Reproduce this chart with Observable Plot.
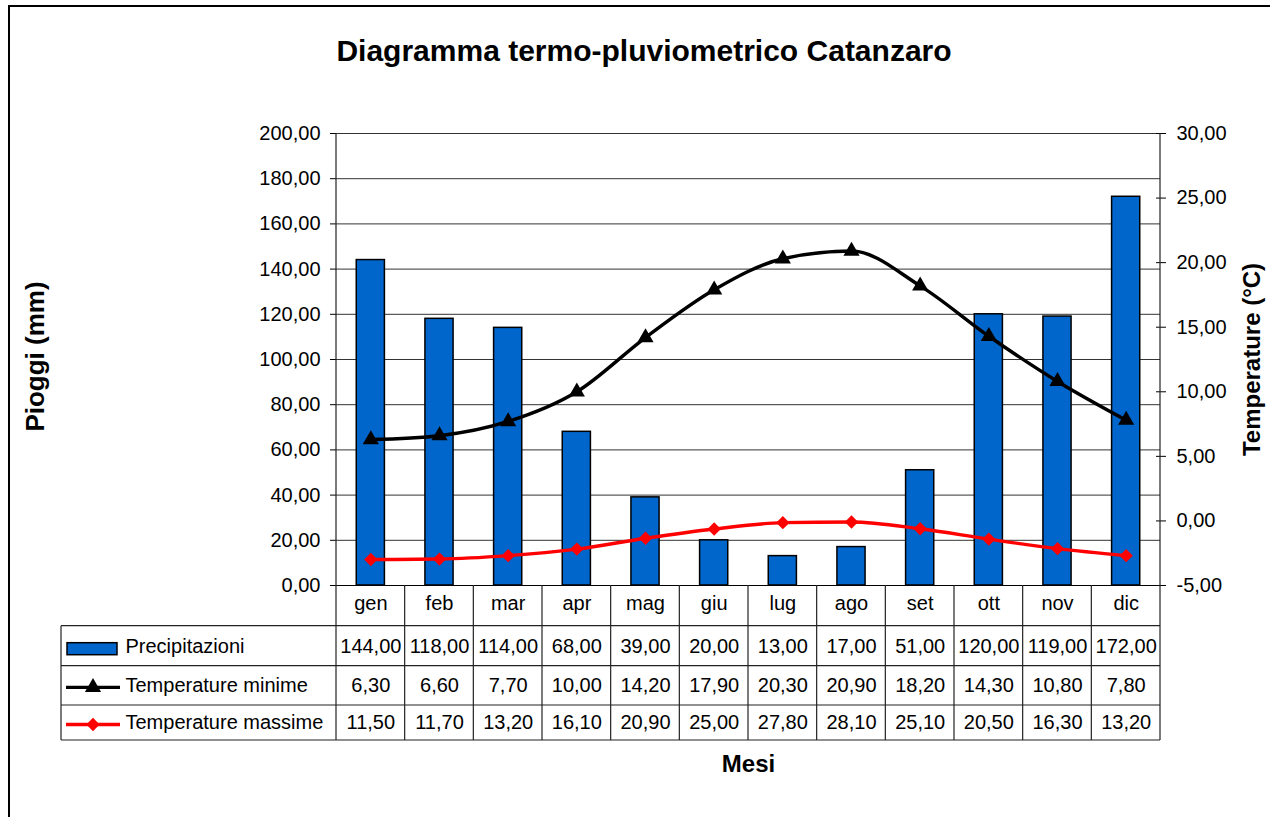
<!DOCTYPE html>
<html>
<head>
<meta charset="utf-8">
<script src="https://cdn.jsdelivr.net/npm/d3@7"></script>
<script src="https://cdn.jsdelivr.net/npm/@observablehq/plot@0.6"></script>
<style>
  html, body { margin: 0; padding: 0; background: #fff; overflow: hidden; }
  #wrap { position: relative; width: 1270px; height: 817px; font-family: "Liberation Sans", Arial, sans-serif; overflow: hidden; }
  #frame { position: absolute; left: 8px; top: 5px; width: 1400px; height: 1000px; border-left: 2px solid #000; border-top: 2px solid #000; pointer-events: none; }
  #title { width: 1288px; height: 64px; padding-top: 36px; text-align: center; font-size: 30px; line-height: 30px; font-weight: bold; color: #000; }
  #chart svg { display: block; }
</style>
</head>
<body>
<div id="wrap">
  <div id="title">Diagramma termo-pluviometrico Catanzaro</div>
  <div id="chart"></div>
  <div id="frame"></div>
</div>
<script>
// ---- data ----
const months = ["gen", "feb", "mar", "apr", "mag", "giu", "lug", "ago", "set", "ott", "nov", "dic"];
const precipitazioni = [144, 118, 114, 68, 39, 20, 13, 17, 51, 120, 119, 172];
const tempMinime = [6.3, 6.6, 7.7, 10.0, 14.2, 17.9, 20.3, 20.9, 18.2, 14.3, 10.8, 7.8];
const tempMassime = [11.5, 11.7, 13.2, 16.1, 20.9, 25.0, 27.8, 28.1, 25.1, 20.5, 16.3, 13.2];
const leftTicks = [0, 20, 40, 60, 80, 100, 120, 140, 160, 180, 200];
const rightTicks = [-5, 0, 5, 10, 15, 20, 25, 30];
const seriesNames = ["Precipitazioni", "Temperature minime", "Temperature massime"];

// ---- helpers ----
const fmt = v => (Math.round(v * 100) / 100 + 0).toFixed(2).replace(".", ",");
const mm0 = leftTicks[0], mm1 = leftTicks[leftTicks.length - 1];
const t0 = rightTicks[0], t1 = rightTicks[rightTicks.length - 1];
const toMM = t => mm0 + (t - t0) * (mm1 - mm0) / (t1 - t0);
const fromMM = v => t0 + (v - mm0) * (t1 - t0) / (mm1 - mm0);

const data = months.map((m, i) => ({
  month: m, precip: precipitazioni[i], tmin: tempMinime[i], tmax: tempMassime[i]
}));

const FONT = "'Liberation Sans', Arial, sans-serif";
const TRI_R = 6, DIA_R = 6, LINE_W = 3.4;

const plot = Plot.plot({
  width: 1270,
  height: 717,
  marginTop: 33,
  marginBottom: 232,
  marginLeft: 336,
  marginRight: 110,
  x: { domain: months, paddingInner: 0.59, paddingOuter: 0.295, round: false, axis: null },
  y: { domain: [mm0, mm1], axis: null },
  style: { fontFamily: FONT, fontSize: "20px", color: "#000", background: "transparent", overflow: "visible" },
  marks: [
    Plot.ruleY(leftTicks.slice(1), { stroke: "#333", strokeWidth: 1 }),
    Plot.barY(data, { x: "month", y: "precip", fill: "#0066CC", stroke: "#000", strokeWidth: 1.5 }),
    Plot.ruleY([mm0], { stroke: "#000", strokeWidth: 1 }),
    Plot.line(data, { x: "month", y: d => toMM(d.tmin), stroke: "#000", strokeWidth: LINE_W, curve: "monotone-x" }),
    Plot.dot(data, { x: "month", y: d => toMM(d.tmin), symbol: "triangle", r: TRI_R, fill: "#000", stroke: "none" }),
    Plot.line(data, { x: "month", y: "tmax", stroke: "#FF0000", strokeWidth: LINE_W, curve: "monotone-x" }),
    Plot.dot(data, { x: "month", y: "tmax", symbol: "diamond2", r: DIA_R, fill: "#FF0000", stroke: "none" }),
    Plot.axisY(leftTicks, { anchor: "left", tickSize: 6, tickPadding: 10, tickFormat: fmt, fontSize: 20, stroke: "#000" }),
    Plot.axisY(rightTicks.map(toMM), { anchor: "right", tickSize: 10, dx: -5, tickPadding: 11, tickFormat: d => fmt(fromMM(d)), fontSize: 20, stroke: "#000" }),
    // category row and data table values
    Plot.text(data, { x: "month", text: "month", frameAnchor: "bottom", dy: 24, fontSize: 20 }),
    Plot.text(data, { x: "month", text: d => fmt(d.precip), frameAnchor: "bottom", dy: 67, fontSize: 20 }),
    Plot.text(data, { x: "month", text: d => fmt(d.tmin), frameAnchor: "bottom", dy: 106, fontSize: 20 }),
    Plot.text(data, { x: "month", text: d => fmt(d.tmax), frameAnchor: "bottom", dy: 143, fontSize: 20 }),
    // legend labels in the table
    Plot.text([seriesNames[0]], { frameAnchor: "bottom-left", dx: -211, dy: 67, textAnchor: "start", fontSize: 20 }),
    Plot.text([seriesNames[1]], { frameAnchor: "bottom-left", dx: -211, dy: 106, textAnchor: "start", fontSize: 20 }),
    Plot.text([seriesNames[2]], { frameAnchor: "bottom-left", dx: -211, dy: 143, textAnchor: "start", fontSize: 20 }),
    // axis titles
    Plot.text(["Pioggi (mm)"], { frameAnchor: "left", dx: -301, dy: -3, rotate: -90, textAnchor: "middle", fontWeight: "bold", fontSize: 26 }),
    Plot.text(["Temperature (°C)"], { frameAnchor: "right", dx: 92, rotate: -90, textAnchor: "middle", fontWeight: "bold", fontSize: 24 }),
    Plot.text(["Mesi"], { frameAnchor: "bottom", dy: 186, textAnchor: "middle", fontWeight: "bold", fontSize: 24 })
  ]
});

document.getElementById("chart").appendChild(plot);

// ---- data table grid and legend keys, positioned through Plot's scales ----
const sx = plot.scale("x");
const sy = plot.scale("y");
const yBase = sy.apply(mm0);
const yTop = sy.apply(mm1);
const step = sx.step;
const xLeft = sx.apply(months[0]) - (sx.step - sx.bandwidth) / 2;
const xRight = xLeft + step * months.length;
const legendLeft = 61;
const rowLines = [40.7, 80.7, 120, 155].map(d => yBase + d);
const yBottom = rowLines[rowLines.length - 1];

const svg = d3.select(plot);
const g = svg.append("g").attr("fill", "none").attr("stroke", "#222").attr("stroke-width", 1.2);
rowLines.forEach(y => g.append("line").attr("x1", legendLeft).attr("x2", xRight).attr("y1", y).attr("y2", y));
g.append("line").attr("x1", legendLeft).attr("x2", legendLeft).attr("y1", rowLines[0]).attr("y2", yBottom);
for (let k = 0; k <= months.length; k++) {
  const x = xLeft + k * step;
  const y1 = (k === 0 || k === months.length) ? yTop : yBase;
  g.append("line").attr("x1", x).attr("x2", x).attr("y1", y1).attr("y2", yBottom);
}

// legend keys
const keyX0 = 66, keyX1 = 120, keyXm = (keyX0 + keyX1) / 2;
const rowMid = i => (rowLines[i] + rowLines[i + 1]) / 2;
const lg = svg.append("g");
lg.append("rect").attr("x", 67).attr("y", rowMid(0) - 3).attr("width", 50).attr("height", 12)
  .attr("fill", "#0066CC").attr("stroke", "#000").attr("stroke-width", 1.5);
lg.append("line").attr("x1", keyX0).attr("x2", keyX1).attr("y1", rowMid(1) + 2).attr("y2", rowMid(1) + 2)
  .attr("stroke", "#000").attr("stroke-width", LINE_W);
lg.append("path").attr("transform", `translate(${keyXm},${rowMid(1) + 2})`)
  .attr("d", d3.symbol(d3.symbolTriangle, Math.PI * TRI_R * TRI_R)()).attr("fill", "#000");
lg.append("line").attr("x1", keyX0).attr("x2", keyX1).attr("y1", rowMid(2) + 2).attr("y2", rowMid(2) + 2)
  .attr("stroke", "#FF0000").attr("stroke-width", LINE_W);
lg.append("path").attr("transform", `translate(${keyXm},${rowMid(2) + 2})`)
  .attr("d", d3.symbol(d3.symbolDiamond2, Math.PI * DIA_R * DIA_R)()).attr("fill", "#FF0000");
</script>
</body>
</html>
